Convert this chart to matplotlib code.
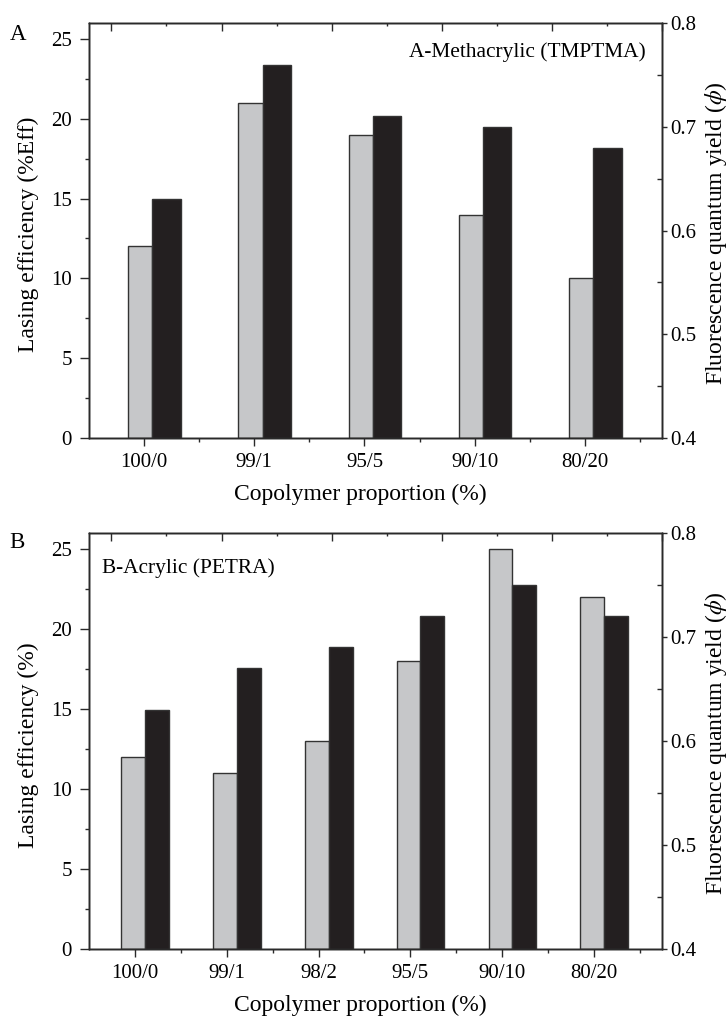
import matplotlib
matplotlib.use('Agg')
import matplotlib.pyplot as plt
import numpy as np
from matplotlib.ticker import MultipleLocator, FixedLocator, NullFormatter

plt.rcParams['font.family'] = ['Liberation Serif', 'DejaVu Serif']
plt.rcParams['mathtext.fontset'] = 'stix'

# ---------------- data ----------------
cats_a = ['100/0', '99/1', '95/5', '90/10', '80/20']
lasing_a = [12, 21, 19, 14, 10]
qy_a = [0.63, 0.76, 0.71, 0.70, 0.68]

cats_b = ['100/0', '99/1', '98/2', '95/5', '90/10', '80/20']
lasing_b = [12, 11, 13, 18, 25, 22]
qy_b = [0.63, 0.67, 0.69, 0.72, 0.75, 0.72]

W, H = 728, 1018
fig = plt.figure(figsize=(W / 100, H / 100), dpi=100)

GRAY = '#c6c7c9'
BLACK = '#231f20'
EDGE = '#333333'
SPINE = '#2a2a2a'
TICK_FS = 15
LABEL_FS = 17
NOTE_FS = 15.4


def px_rect(left, top, right, bottom):
    return [left / W, 1 - bottom / H, (right - left) / W, (bottom - top) / H]


def panel(rect, cats, lasing, qy, ylabel, letter, letter_xy, note, note_xy, note_ha,
          gray_off, gray_w, black_off, black_w, xmax):
    ax = fig.add_axes(rect)
    x = np.arange(len(cats))
    ax.bar(x + gray_off, lasing, width=gray_w, align='edge', color=GRAY,
           edgecolor=EDGE, linewidth=1.0, zorder=2)
    ax.set_xlim(-0.5, xmax)
    ax.set_ylim(0, 26)
    ax.set_xticks(x)
    ax.set_xticklabels(cats)
    ax.xaxis.set_minor_locator(FixedLocator(x + 0.5))
    ax.yaxis.set_major_locator(MultipleLocator(5))
    ax.yaxis.set_minor_locator(MultipleLocator(2.5))
    ax.tick_params(axis='x', which='major', direction='out', length=5.5, width=1.0,
                   labelsize=TICK_FS, pad=5, color=SPINE)
    ax.tick_params(axis='x', which='minor', direction='out', length=2.6, width=1.0, color=SPINE)
    ax.tick_params(axis='y', which='major', direction='out', length=6.2, width=1.0,
                   labelsize=TICK_FS, pad=6, color=SPINE)
    ax.tick_params(axis='y', which='minor', direction='out', length=2.8, width=1.0, color=SPINE)
    ax.set_ylabel(ylabel, fontsize=LABEL_FS)
    ax.yaxis.label.set_va('center')
    ax.yaxis.set_label_coords(-0.105, 0.49)
    ax.set_xlabel('Copolymer proportion (%)', fontsize=LABEL_FS)
    ax.xaxis.label.set_va('center')
    ax.xaxis.set_label_coords(0.474, -0.135)
    for s in ax.spines.values():
        s.set_linewidth(1.0)
        s.set_color(SPINE)

    ax2 = ax.twinx()
    ax2.bar(x + black_off, np.array(qy) - 0.4, bottom=0.4, width=black_w, align='edge',
            color=BLACK, edgecolor=EDGE, linewidth=1.0, zorder=2)
    ax2.set_ylim(0.4, 0.8)
    ax2.yaxis.set_major_locator(MultipleLocator(0.1))
    ax2.yaxis.set_minor_locator(MultipleLocator(0.05))
    ax2.tick_params(axis='y', which='major', direction='out', length=3.5, width=1.0,
                    labelsize=TICK_FS, pad=2.5, color=SPINE)
    ax2.tick_params(axis='y', which='minor', direction='in', length=3.5, width=1.0, color=SPINE)
    ax2.set_ylabel('Fluorescence quantum yield ($\\phi$)', fontsize=LABEL_FS)
    ax2.yaxis.label.set_va('center')
    ax2.yaxis.set_label_coords(1.095, 0.494)
    for s in ax2.spines.values():
        s.set_linewidth(1.0)
        s.set_color(SPINE)

    ax3 = ax.twiny()
    ax3.set_xlim(0, 1)
    top_major = [0.039 + 0.1924 * k for k in range(5)] + [1.0]
    top_minor = [0.135 + 0.1924 * k for k in range(5)]
    ax3.xaxis.set_major_locator(FixedLocator(top_major))
    ax3.xaxis.set_minor_locator(FixedLocator(top_minor))
    ax3.xaxis.set_major_formatter(NullFormatter())
    ax3.tick_params(axis='x', which='major', direction='in', length=6.0, width=1.0, color=SPINE)
    ax3.tick_params(axis='x', which='minor', direction='in', length=2.4, width=1.0, color=SPINE)
    for s in ax3.spines.values():
        s.set_linewidth(1.0)
        s.set_color(SPINE)

    ax.text(note_xy[0], note_xy[1], note, transform=ax.transAxes, fontsize=NOTE_FS,
            ha=note_ha, va='center', zorder=5)
    fig.text(letter_xy[0] / W, 1 - letter_xy[1] / H, letter, fontsize=16.5,
             ha='center', va='center')
    return ax


panel(px_rect(89, 23, 662, 438), cats_a, lasing_a, qy_a, 'Lasing efficiency (%Eff)',
      'A', (18, 34), 'A-Methacrylic (TMPTMA)', (0.971, 0.931), 'right',
      -0.145, 0.22, 0.076, 0.257, 4.7)

panel(px_rect(89, 533, 662, 949), cats_b, lasing_b, qy_b, 'Lasing efficiency (%)',
      'B', (17, 543), 'B-Acrylic (PETRA)', (0.022, 0.916), 'left',
      -0.149, 0.258, 0.109, 0.261, 5.74)

fig.savefig('out.png', dpi=100)
